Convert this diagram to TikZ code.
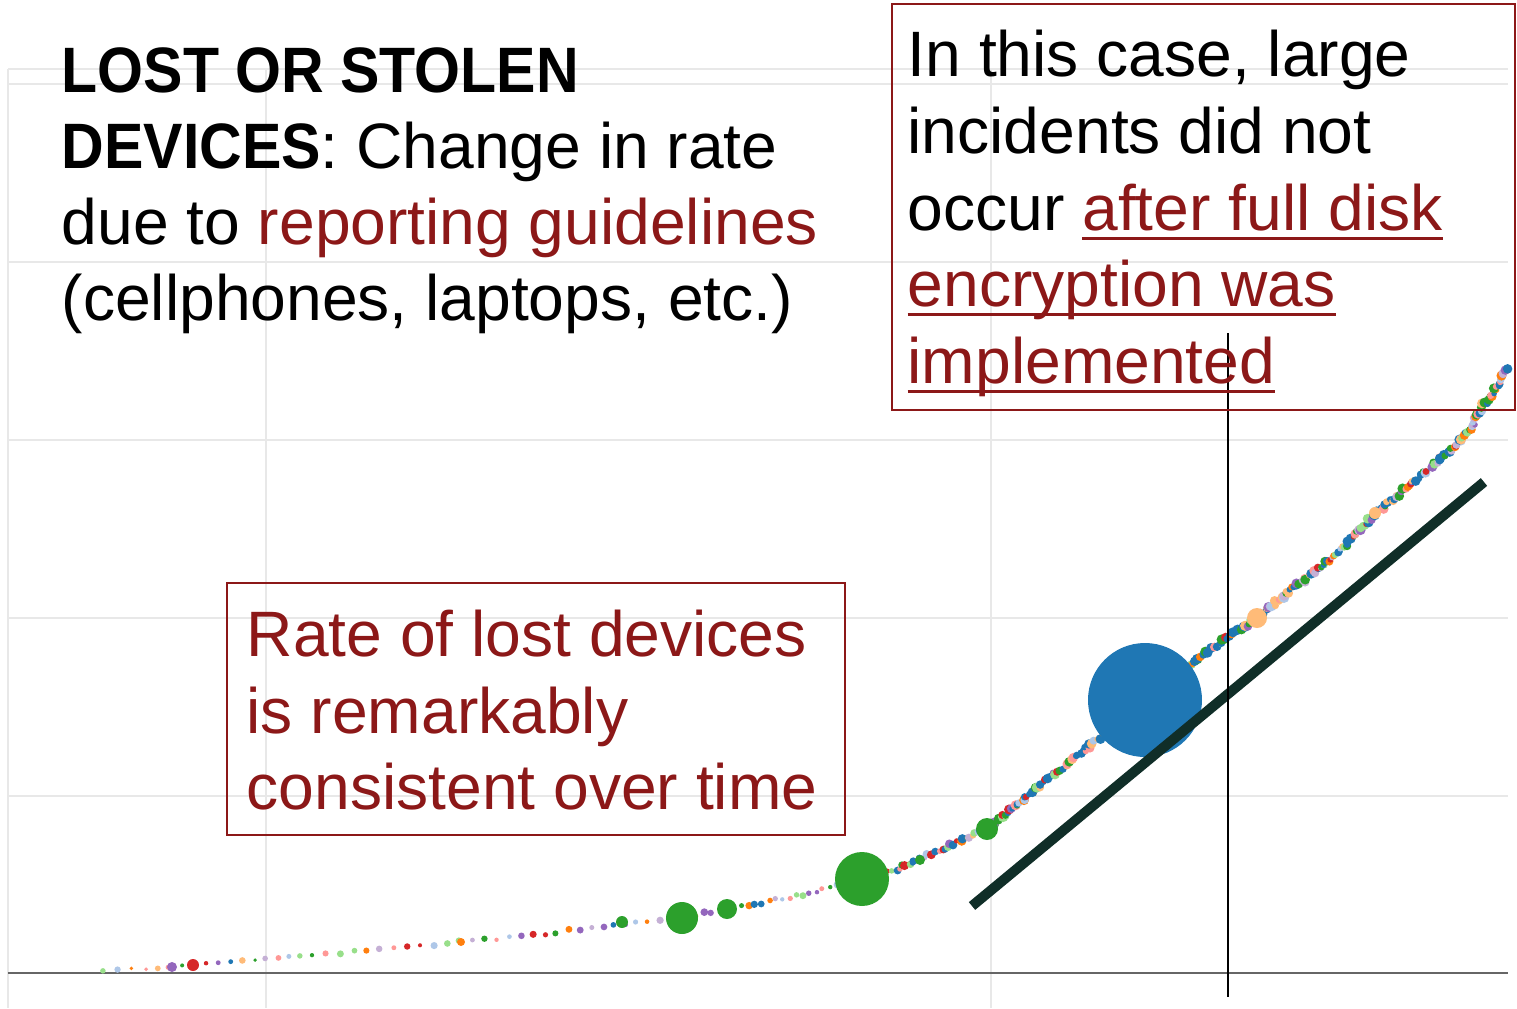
\documentclass[tikz,border=0pt]{standalone}
\usepackage{fontspec}
\usepackage{graphicx}
\setmainfont{Liberation Sans}
\frenchspacing

\definecolor{darkred}{RGB}{140,24,24}
\definecolor{trendgreen}{RGB}{16,46,40}
\definecolor{gridgray}{RGB}{232,232,232}
\definecolor{dc1}{HTML}{1F77B4}
\definecolor{dc2}{HTML}{AEC7E8}
\definecolor{dc3}{HTML}{FF7F0E}
\definecolor{dc4}{HTML}{FFBB78}
\definecolor{dc5}{HTML}{2CA02C}
\definecolor{dc6}{HTML}{98DF8A}
\definecolor{dc7}{HTML}{D62728}
\definecolor{dc8}{HTML}{FF9896}
\definecolor{dc9}{HTML}{9467BD}
\definecolor{dc10}{HTML}{C5B0D5}
\definecolor{dc11}{HTML}{1F77B4}
\definecolor{dc12}{HTML}{2CA02C}
\definecolor{dc13}{HTML}{1F77B4}
\definecolor{dc14}{HTML}{1F77B4}

\newlength\ulw
\newcommand\undl[1]{\settowidth{\ulw}{#1}\rlap{\rule[-2.7pt]{\ulw}{0.85pt}}#1}
\newcommand\headbf[1]{\scalebox{0.92}[1]{\bfseries #1}}

\begin{document}
\begin{tikzpicture}[
    x=0.01cm, y=-0.01cm,
    txt/.style={inner sep=0pt, anchor=base west, font=\fontsize{18.25}{22}\selectfont},
    note/.style={draw=darkred, line width=0.6pt},
    grid/.style={draw=gridgray, line width=0.45pt}
]
    \useasboundingbox (0,0) rectangle (1517,1008);
    \pgfmathsetseed{12}

    \foreach \y in {84,262,440,618,796} {
        \draw[grid] (8,\y) -- (1508,\y);
    }
    \draw[grid] (8,69) -- (1508,69);
    \foreach \x in {8,266,991} {
        \draw[grid] (\x,69) -- (\x,1008);
    }
    \draw[black!60, line width=0.6pt] (8,973) -- (1508,973);

    % scattered incidents along the curve
    \foreach \xa/\ya/\xb/\yb/\n/\s/\m in {90/971/145/968/4/2.6/12, 145/968/193/965/4/2.6/12, 193/965/266/959/6/2.6/12,
        266/959/300/956/3/2.6/12, 300/956/380/949/6/2.8/12, 380/949/460/942/6/2.8/12, 460/942/533/935/6/2.8/12,
        533/935/603/926/6/2.8/12, 603/926/682/918/7/3/12, 682/918/727/909/6/3/12, 727/909/797/896/10/3/12,
        797/896/862/879/10/3/12, 862/879/900/868/10/3.4/14, 900/868/933/853/11/3.6/14, 933/853/987/829/18/3.6/14,
        987/829/1040/786/30/4/14, 1040/786/1145/702/50/4/14, 1145/702/1193/663/28/4/14, 1193/663/1228/637/20/4/14,
        1228/637/1257/618/17/4/14, 1257/618/1300/583/25/4/14, 1300/583/1333/557/20/4/14, 1333/557/1377/512/28/4/14,
        1377/512/1400/493/14/4/14, 1400/493/1427/470/17/4/14, 1427/470/1460/442/20/4/14, 1460/442/1473/423/12/4/14,
        1473/423/1480/410/7/4/14, 1480/410/1497/387/14/4/14, 1497/387/1508/368/10/4/14} {
        \foreach \i in {1,...,\n} {
            \pgfmathsetmacro{\px}{\xa+(\xb-\xa)*\i/\n+0.5*rand*\s}
            \pgfmathsetmacro{\py}{\ya+(\yb-\ya)*\i/\n+0.5*rand*\s}
            \pgfmathsetmacro{\pr}{\s*(0.7+0.6*rnd)}
            \pgfmathrandominteger{\k}{1}{\m}
            \fill[color=dc\k] (\px,\py) circle (\pr);
        }
    }

    \foreach \cx/\cy/\r/\c in {1145/700/57/dc1, 862/879/27/dc5, 682/918/16/dc5, 727/909/10/dc5,
        987/829/11/dc5, 622/922/6/dc5, 920/860/5/dc5, 1257/618/10/dc4, 1375/513/6/dc4,
        193/965/6/dc7, 172/967/5/dc9, 461/942/4/dc3} {
        \fill[\c] (\cx,\cy) circle (\r);
    }

    \draw[trendgreen, line width=2.85pt] (972,906) -- (1484,482);
    \draw[black, line width=0.6pt] (1228,333) -- (1228,997);

    \node[txt] (t1) at (61,92) {\headbf{LOST OR STOLEN}};
    \node[txt] (t2) at (61,168) {\headbf{DEVICES}: Change in rate};
    \node[txt] (t3) at (61,244) {due to \textcolor{darkred}{reporting guidelines}};
    \node[txt] (t4) at (61,320) {(cellphones, laptops, etc.)};

    \draw[note] (892,4) rectangle (1515,410);
    \node[txt] (r1) at (907,76) {In this case, large};
    \node[txt] (r2) at (907,153) {incidents did not};
    \node[txt] (r3) at (907,230) {occur \textcolor{darkred}{\undl{after full disk}}};
    \node[txt] (r4) at (907,306) {\textcolor{darkred}{\undl{encryption was}}};
    \node[txt] (r5) at (907,383) {\textcolor{darkred}{\undl{implemented}}};

    \draw[note] (227,583) rectangle (845,835);
    \node[txt, text=darkred] (b1) at (246,656) {Rate of lost devices};
    \node[txt, text=darkred] (b2) at (246,733) {is remarkably};
    \node[txt, text=darkred] (b3) at (246,809) {consistent over time};
\end{tikzpicture}
\end{document}
